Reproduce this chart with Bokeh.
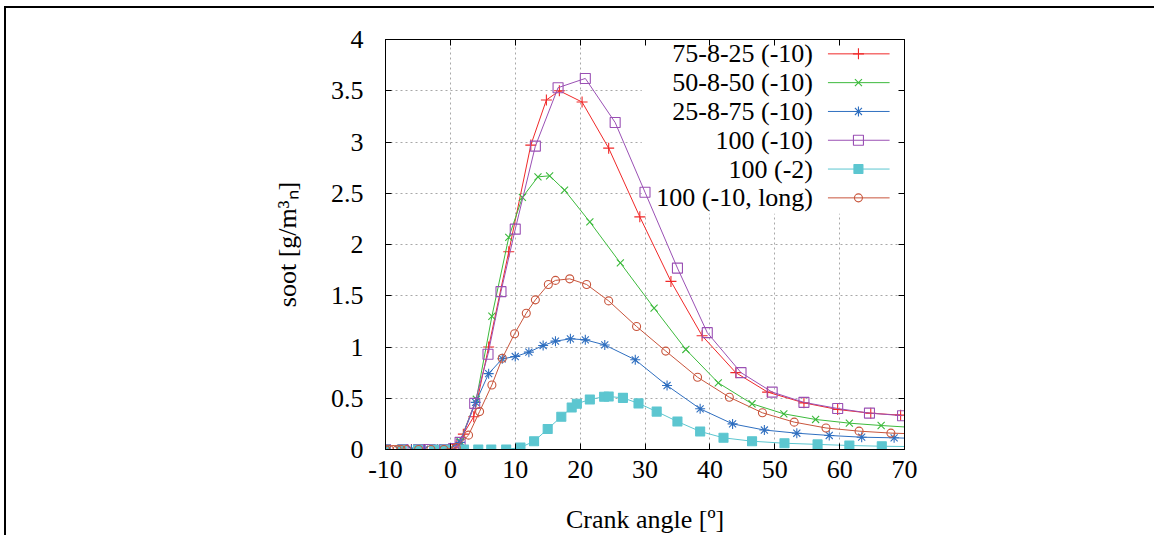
from bokeh.plotting import figure
from bokeh.models import LinearAxis, FixedTicker, Range1d
from bokeh.embed import file_html
from bokeh.resources import INLINE
from bokeh.core.properties import value

# ---------------- data ----------------
X_TICKS = [-10, 0, 10, 20, 30, 40, 50, 60, 70]
X_TICK_LABELS = ["-10", "0", "10", "20", "30", "40", "50", "60", "70"]
Y_TICKS = [0, 0.5, 1, 1.5, 2, 2.5, 3, 3.5, 4]
Y_TICK_LABELS = ["0", "0.5", "1", "1.5", "2", "2.5", "3", "3.5", "4"]

NAMES = ["75-8-25 (-10)", "50-8-50 (-10)", "25-8-75 (-10)",
         "100 (-10)", "100 (-2)", "100 (-10, long)"]

x_75_8_25 = [-10, -8, -6, -4, -2, 0, 1, 2, 3.6, 5.9, 9, 12.4, 14.8, 16.8, 20.3, 24.4,
             29.2, 34, 38.8, 44, 48.9, 54.5, 59.7, 64.8, 69.4]
y_75_8_25 = [0, 0, 0, 0, 0, 0.01, 0.05, 0.15, 0.32, 1.0, 1.93, 2.97, 3.41, 3.50, 3.39, 2.94,
             2.27, 1.64, 1.11, 0.75, 0.56, 0.455, 0.39, 0.354, 0.335]

x_50_8_50 = [-10, -8, -6, -4, -2, 0, 1.5, 4, 6.4, 9, 11.1, 13.5, 15.3, 17.6, 21.5, 26.2,
             31.4, 36.3, 41.3, 46.5, 51.4, 56.3, 61.5, 66.4, 71.3]
y_50_8_50 = [0, 0, 0, 0, 0, 0.01, 0.08, 0.49, 1.30, 2.07, 2.46, 2.66, 2.67, 2.53, 2.22, 1.82,
             1.38, 0.976, 0.65, 0.446, 0.348, 0.293, 0.257, 0.234, 0.215]

x_25_8_75 = [-10, -8, -6, -4, -2, 0, 1.5, 3.9, 5.9, 8, 10, 12.1, 14.3, 16.2, 18.5, 20.8,
             23.8, 28.5, 33.4, 38.5, 43.5, 48.4, 53.4, 58.4, 63.4, 68.4, 73.4]
y_25_8_75 = [0, 0, 0, 0, 0, 0.01, 0.07, 0.46, 0.74, 0.885, 0.907, 0.95, 1.015, 1.057, 1.08,
             1.07, 1.02, 0.875, 0.624, 0.397, 0.25, 0.19, 0.159, 0.137, 0.12, 0.114, 0.105]

x_100_m10 = [-10, -7.3, -4.9, -3.1, -0.9, 0.5, 1.5, 3.75, 5.8, 7.8, 10, 13.1, 16.6, 20.8,
             25.4, 30, 35, 39.6, 44.8, 49.6, 54.5, 59.7, 64.6, 69.7]
y_100_m10 = [0, 0, 0, 0, 0, 0.01, 0.07, 0.45, 0.93, 1.54, 2.15, 2.96, 3.53, 3.62,
             3.19, 2.51, 1.77, 1.14, 0.75, 0.56, 0.46, 0.40, 0.355, 0.33]

x_100_m2 = [-10, -7.5, -5, -2.5, -0.8, 2.1, 4.3, 6.3, 8.6, 10.8, 12.9, 15, 17.1, 18.7, 19.5,
            21.5, 23.7, 24.4, 26.6, 29, 31.8, 35, 38.5, 42.1, 46.5, 51.5, 56.6, 61.5, 66.5, 71.5]
y_100_m2 = [0, 0, 0, 0, 0, 0, 0, 0, 0, 0.02, 0.08, 0.2, 0.32, 0.41, 0.446,
            0.488, 0.515, 0.517, 0.504, 0.45, 0.37, 0.273, 0.176, 0.114, 0.081, 0.061, 0.05,
            0.039, 0.032, 0.028]

x_100_long = [-10, -9.4, -8.8, -8.2, -7.6, -6.7, -4.9, -3, -1, 0.9, 2.8, 4.5, 6.4, 8, 9.9,
              11.7, 13.1, 15.1, 16.2, 18.4, 21, 24.4, 28.7, 33.2, 38.1, 43, 48.1, 53, 57.9,
              63, 67.9, 72.8]
y_100_long = [0, 0, 0, 0, 0, 0, 0, 0, 0, 0.02, 0.14, 0.37, 0.63, 0.89, 1.13,
              1.33, 1.46, 1.61, 1.65, 1.665, 1.61, 1.45, 1.2, 0.96, 0.705, 0.51, 0.358, 0.267,
              0.21, 0.179, 0.16, 0.15]

SERIES_X = [x_75_8_25, x_50_8_50, x_25_8_75, x_100_m10, x_100_m2, x_100_long]
SERIES_Y = [y_75_8_25, y_50_8_50, y_25_8_75, y_100_m10, y_100_m2, y_100_long]

# ---------------- styles ----------------
COLORS = ["#f02828", "#3cba3c", "#2f6fc0", "#9a50b4", "#5cc6d0", "#c8553c"]
MARKERS = ["cross", "x", "asterisk", "square", "square", "circle"]
SIZES = [11, 10, 10, 10, 9, 8]
FILLED = [False, False, False, False, True, False]
FONT = "Liberation Serif"
FS = "26px"

# legend layout (data units)
LEG_BOX = (29.5, 70, 2.3, 4)
LEG_TEXT_X = 55.9
LEG_LINE_X0, LEG_LINE_X1, LEG_MARK_X = 58.2, 67.7, 62.9
LEG_Y0, LEG_DY = 3.86, 0.281

p = figure(width=1150, height=529, output_backend="svg", toolbar_location=None,
           x_range=Range1d(-10, 70), y_range=Range1d(0, 4),
           min_border_left=379, min_border_right=252, min_border_top=31,
           min_border_bottom=88,
           x_axis_label="Crank angle [º]", y_axis_label="soot [g/m³ₙ]")
p.styles = {"border-top": "2px solid black", "border-left": "2px solid black",
            "margin-left": "4px", "margin-top": "6px"}
p.background_fill_color = "white"
p.border_fill_color = "white"
p.outline_line_color = "black"
p.outline_line_width = 1

p.xaxis.ticker = FixedTicker(ticks=X_TICKS)
p.yaxis.ticker = FixedTicker(ticks=Y_TICKS)
p.xaxis.major_label_overrides = {t: l for t, l in zip(X_TICKS, X_TICK_LABELS)}
p.yaxis.major_label_overrides = {t: l for t, l in zip(Y_TICKS, Y_TICK_LABELS)}

for ax in (p.xaxis[0], p.yaxis[0]):
    ax.major_tick_in = 6
    ax.major_tick_out = 0
    ax.minor_tick_line_color = None
    ax.axis_line_color = "black"
    ax.major_tick_line_color = "black"
    ax.major_label_text_font = FONT
    ax.major_label_text_font_size = FS
    ax.major_label_text_color = "black"
    ax.axis_label_text_font = FONT
    ax.axis_label_text_font_size = FS
    ax.axis_label_text_font_style = "normal"
    ax.axis_label_text_color = "black"

p.yaxis.major_label_standoff = 22
p.yaxis.axis_label_standoff = 26
p.xaxis.major_label_standoff = 11
p.xaxis.axis_label_standoff = 24

# mirror axes (gnuplot style ticks on all sides)
top = LinearAxis(ticker=FixedTicker(ticks=X_TICKS),
                 major_label_overrides={t: "" for t in X_TICKS})
right = LinearAxis(ticker=FixedTicker(ticks=Y_TICKS),
                   major_label_overrides={t: "" for t in Y_TICKS})
for ax in (top, right):
    ax.major_tick_in = 6
    ax.major_tick_out = 0
    ax.minor_tick_line_color = None
    ax.axis_line_color = "black"
    ax.major_label_standoff = 0
    ax.major_label_text_font_size = "1px"
p.add_layout(top, "above")
p.add_layout(right, "right")

for g in (p.xgrid[0], p.ygrid[0]):
    g.grid_line_color = "#a8a8a8"
    g.grid_line_dash = "2 3"
    g.grid_line_width = 1
p.xgrid.ticker = FixedTicker(ticks=X_TICKS)
p.ygrid.ticker = FixedTicker(ticks=Y_TICKS)

# white key area hiding the grid behind the legend
p.quad(left=[LEG_BOX[0]], right=[LEG_BOX[1]], bottom=[LEG_BOX[2]], top=[LEG_BOX[3]],
       fill_color="white", line_color=None)

for i in range(len(NAMES)):
    c = COLORS[i]
    p.line(SERIES_X[i], SERIES_Y[i], line_color=c, line_width=1)
    p.scatter(SERIES_X[i], SERIES_Y[i], marker=MARKERS[i], size=SIZES[i],
              line_color=c, line_width=1.1,
              fill_color=c if FILLED[i] else None)

# key (gnuplot style: right-aligned text, sample on the right)
leg_y = [LEG_Y0 - i * LEG_DY for i in range(len(NAMES))]
p.text(x=[LEG_TEXT_X] * len(NAMES), y=leg_y, text=NAMES, text_align="right",
       text_baseline="middle", text_font=value(FONT), text_font_size=FS,
       text_color="black")
for i in range(len(NAMES)):
    c = COLORS[i]
    p.segment(x0=[LEG_LINE_X0], x1=[LEG_LINE_X1], y0=[leg_y[i]], y1=[leg_y[i]],
              line_color=c, line_width=1)
    p.scatter([LEG_MARK_X], [leg_y[i]], marker=MARKERS[i], size=SIZES[i],
              line_color=c, line_width=1.1, fill_color=c if FILLED[i] else None)

open("out.html", "w").write(file_html(p, INLINE))
